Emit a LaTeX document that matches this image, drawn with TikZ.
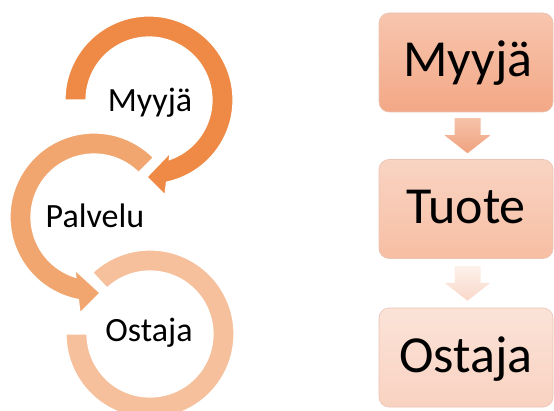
\documentclass[tikz,border=0pt]{standalone}
\usepackage{fontspec}
\setmainfont{Carlito}
\usetikzlibrary{calc}
\definecolor{ringA}{HTML}{EE8A46}
\definecolor{ringB}{HTML}{F1A66F}
\definecolor{ringC}{HTML}{F5C09B}
\definecolor{boxAtop}{HTML}{F7C5AE}
\definecolor{boxAbot}{HTML}{F3A886}
\definecolor{boxBtop}{HTML}{F9D4C3}
\definecolor{boxBbot}{HTML}{F7BEA3}
\definecolor{boxCtop}{HTML}{FBE3D8}
\definecolor{boxCbot}{HTML}{F9D2C1}
\definecolor{boxline}{HTML}{E9C3B3}
\definecolor{arrAtop}{HTML}{F6C2A9}
\definecolor{arrAbot}{HTML}{EFA27F}
\definecolor{arrBtop}{HTML}{FDF1EB}
\definecolor{arrBbot}{HTML}{F9D8CA}
\tikzset{
  ring/.style={draw=white, line width=1.2pt},
  ringlabel/.style={font=\fontsize{34}{40}\selectfont, anchor=base, inner sep=0pt},
  stagebox/.style={draw=boxline, line width=0.6pt, rounded corners=10pt,
    minimum width=174pt, minimum height=99pt, inner sep=0pt},
  stagelabel/.style={font=\fontsize{52}{60}\selectfont, anchor=base, inner sep=0pt},
}
\begin{document}
\begin{tikzpicture}[x=1pt,y=1pt]
\useasboundingbox (0,0) rectangle (554,410);
\clip (0,0) rectangle (554,410);
% ring centres
\coordinate (C) at (150,76);
\coordinate (B) at (94,193);
\coordinate (A) at (149,310);
% bottom ring (Ostaja)
\filldraw[ring, fill=ringC] ($(C)+(180:84pt)$) arc[start angle=180, end angle=493, radius=84pt]
  -- ($(C)+(133:63pt)$) arc[start angle=493, end angle=180, radius=63pt] -- cycle;
% middle ring (Palvelu)
\filldraw[ring, fill=ringB] ($(B)+(45:84pt)$) arc[start angle=45, end angle=259.3, radius=84pt]
  -- (80,97) -- (100,117) -- (75,140)
  -- ($(B)+(253.3:63pt)$) arc[start angle=253.3, end angle=45, radius=63pt] -- cycle;
% top ring (Myyjä)
\filldraw[ring, fill=ringA] ($(A)+(180:84pt)$) arc[start angle=180, end angle=-78, radius=84pt]
  -- (165,215) -- (147,233) -- (170,257)
  -- ($(A)+(-71.2:63pt)$) arc[start angle=-71.2, end angle=180, radius=63pt] -- cycle;
% ring labels
\node[ringlabel] (lA) at (150,298) {Myyjä};
\node[ringlabel] (lB) at (95,182) {Palvelu};
\node[ringlabel] (lC) at (149,69) {Ostaja};
% right column boxes
\node[stagebox, top color=boxAtop, bottom color=boxAbot] (b1) at (466,347.5) {};
\node[stagebox, top color=boxBtop, bottom color=boxBbot] (b2) at (466,201) {};
\node[stagebox, top color=boxCtop, bottom color=boxCbot] (b3) at (466,52.5) {};
\node[stagelabel] (t1) at ($(b1.center)+(2pt,-14.5pt)$) {Myyjä};
\node[stagelabel] (t2) at ($(b2.center)+(0pt,-14.5pt)$) {Tuote};
\node[stagelabel] (t3) at ($(b3.center)+(0pt,-15pt)$) {Ostaja};
% block arrows between boxes
\coordinate (m1) at ($(b1.south)!0.5!(b2.north)+(1.5pt,0)$);
\coordinate (m2) at ($(b2.south)!0.5!(b3.north)+(1.5pt,0)$);
\path[top color=arrAtop, bottom color=arrAbot]
  ($(m1)+(-13pt,17.5pt)$) -- ($(m1)+(13pt,17.5pt)$) -- ($(m1)+(13pt,0.5pt)$)
  -- ($(m1)+(23pt,0.5pt)$) -- ($(m1)+(0pt,-17.5pt)$) -- ($(m1)+(-23pt,0.5pt)$)
  -- ($(m1)+(-13pt,0.5pt)$) -- cycle;
\path[top color=arrBtop, bottom color=arrBbot]
  ($(m2)+(-13pt,17.5pt)$) -- ($(m2)+(13pt,17.5pt)$) -- ($(m2)+(13pt,0.5pt)$)
  -- ($(m2)+(23pt,0.5pt)$) -- ($(m2)+(0pt,-17.5pt)$) -- ($(m2)+(-23pt,0.5pt)$)
  -- ($(m2)+(-13pt,0.5pt)$) -- cycle;
\end{tikzpicture}
\end{document}
